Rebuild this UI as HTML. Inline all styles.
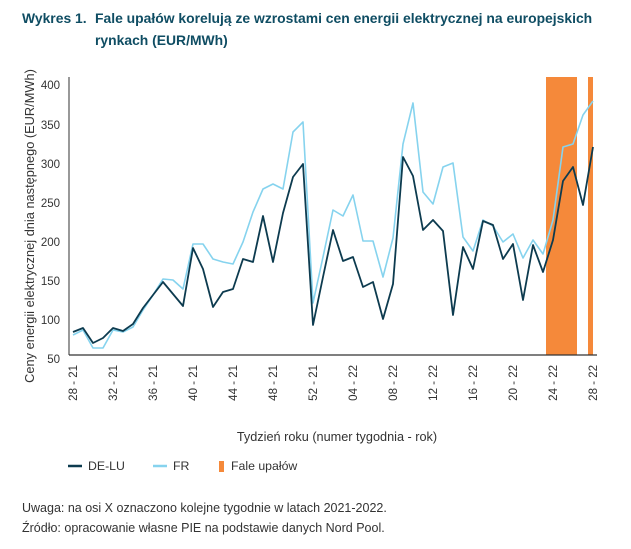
<!DOCTYPE html>
<html><head><meta charset="utf-8"><style>
body{margin:0;background:#fff;font-family:"Liberation Sans",sans-serif;}
</style></head><body>
<svg width="631" height="544" xmlns="http://www.w3.org/2000/svg" font-family="Liberation Sans, sans-serif">
<text x="22" y="23" font-size="13.9" font-weight="bold" fill="#0f4d63">Wykres 1.</text>
<text x="95" y="23" font-size="13.9" font-weight="bold" fill="#0f4d63">Fale upałów korelują ze wzrostami cen energii elektrycznej na europejskich</text>
<text x="95" y="45" font-size="13.9" font-weight="bold" fill="#0f4d63">rynkach (EUR/MWh)</text>
<rect x="546" y="77" width="31" height="278" fill="#f5893a"/>
<rect x="588" y="77" width="5" height="278" fill="#f5893a"/>
<line x1="69" y1="77" x2="69" y2="355" stroke="#555" stroke-width="1.2"/>
<line x1="69" y1="355" x2="597" y2="355" stroke="#333" stroke-width="1.2"/>
<g font-size="11.5" fill="#333" text-anchor="end">
<text x="60" y="89">400</text><text x="60" y="129">350</text><text x="60" y="168">300</text><text x="60" y="207">250</text><text x="60" y="246">200</text><text x="60" y="285">150</text><text x="60" y="324">100</text><text x="60" y="363">50</text>
</g>
<g font-size="11.5" fill="#333" text-anchor="end">
<text transform="translate(77,365) rotate(-90)">28 - 21</text>
<text transform="translate(117,365) rotate(-90)">32 - 21</text>
<text transform="translate(157,365) rotate(-90)">36 - 21</text>
<text transform="translate(197,365) rotate(-90)">40 - 21</text>
<text transform="translate(237,365) rotate(-90)">44 - 21</text>
<text transform="translate(277,365) rotate(-90)">48 - 21</text>
<text transform="translate(317,365) rotate(-90)">52 - 21</text>
<text transform="translate(357,365) rotate(-90)">04 - 22</text>
<text transform="translate(397,365) rotate(-90)">08 - 22</text>
<text transform="translate(437,365) rotate(-90)">12 - 22</text>
<text transform="translate(477,365) rotate(-90)">16 - 22</text>
<text transform="translate(517,365) rotate(-90)">20 - 22</text>
<text transform="translate(557,365) rotate(-90)">24 - 22</text>
<text transform="translate(597,365) rotate(-90)">28 - 22</text>
</g>
<text transform="translate(34,226) rotate(-90)" font-size="12.8" fill="#333" text-anchor="middle">Ceny energii elektrycznej dnia następnego (EUR/MWh)</text>
<text x="337" y="441" font-size="12.7" fill="#333" text-anchor="middle">Tydzień roku (numer tygodnia - rok)</text>
<polyline fill="none" stroke="#86d3ee" stroke-width="1.6" stroke-linejoin="round" points="73,335 83,330 93,348 103,348 113,330 123,332 133,327 143,310 153,295 163,279 173,280 183,289 193,244 203,244 213,259 223,262 233,264 243,242 253,212 263,189 273,184 283,189 293,132 303,122 313,303 323,257 333,210 343,216 353,195 363,241 373,241 383,277 393,238 403,144 413,103 423,192 433,204 443,167 453,163 463,237 473,251 483,220 493,226 503,242 513,234 523,258 533,240 543,254 553,220 563,147 573,144 583,115 593,101"/>
<polyline fill="none" stroke="#0d3b4f" stroke-width="1.8" stroke-linejoin="round" points="73,332 83,328 93,343 103,338 113,328 123,331 133,324 143,308 153,295 163,282 173,294 183,306 193,248 203,269 213,307 223,292 233,289 243,259 253,262 263,216 273,262 283,213 293,177 303,164 313,325 323,277 333,230 343,261 353,257 363,287 373,282 383,319 393,284 403,157 413,176 423,230 433,220 443,231 453,315 463,247 473,269 483,221 493,225 503,259 513,244 523,300 533,245 543,272 553,240 563,181 573,167 583,205 593,147"/>
<line x1="68" y1="466" x2="82" y2="466" stroke="#0d3b4f" stroke-width="2.5"/>
<text x="88" y="470" font-size="12.3" fill="#333">DE-LU</text>
<line x1="153" y1="466" x2="167" y2="466" stroke="#86d3ee" stroke-width="2.5"/>
<text x="173" y="470" font-size="12.3" fill="#333">FR</text>
<rect x="219" y="461" width="5" height="11" fill="#f5893a"/>
<text x="231" y="470" font-size="12.3" fill="#333">Fale upałów</text>
<text x="22" y="512" font-size="12.5" fill="#333">Uwaga: na osi X oznaczono kolejne tygodnie w latach 2021-2022.</text>
<text x="22" y="532" font-size="12.5" fill="#333">Źródło: opracowanie własne PIE na podstawie danych Nord Pool.</text>
</svg>
</body></html>
